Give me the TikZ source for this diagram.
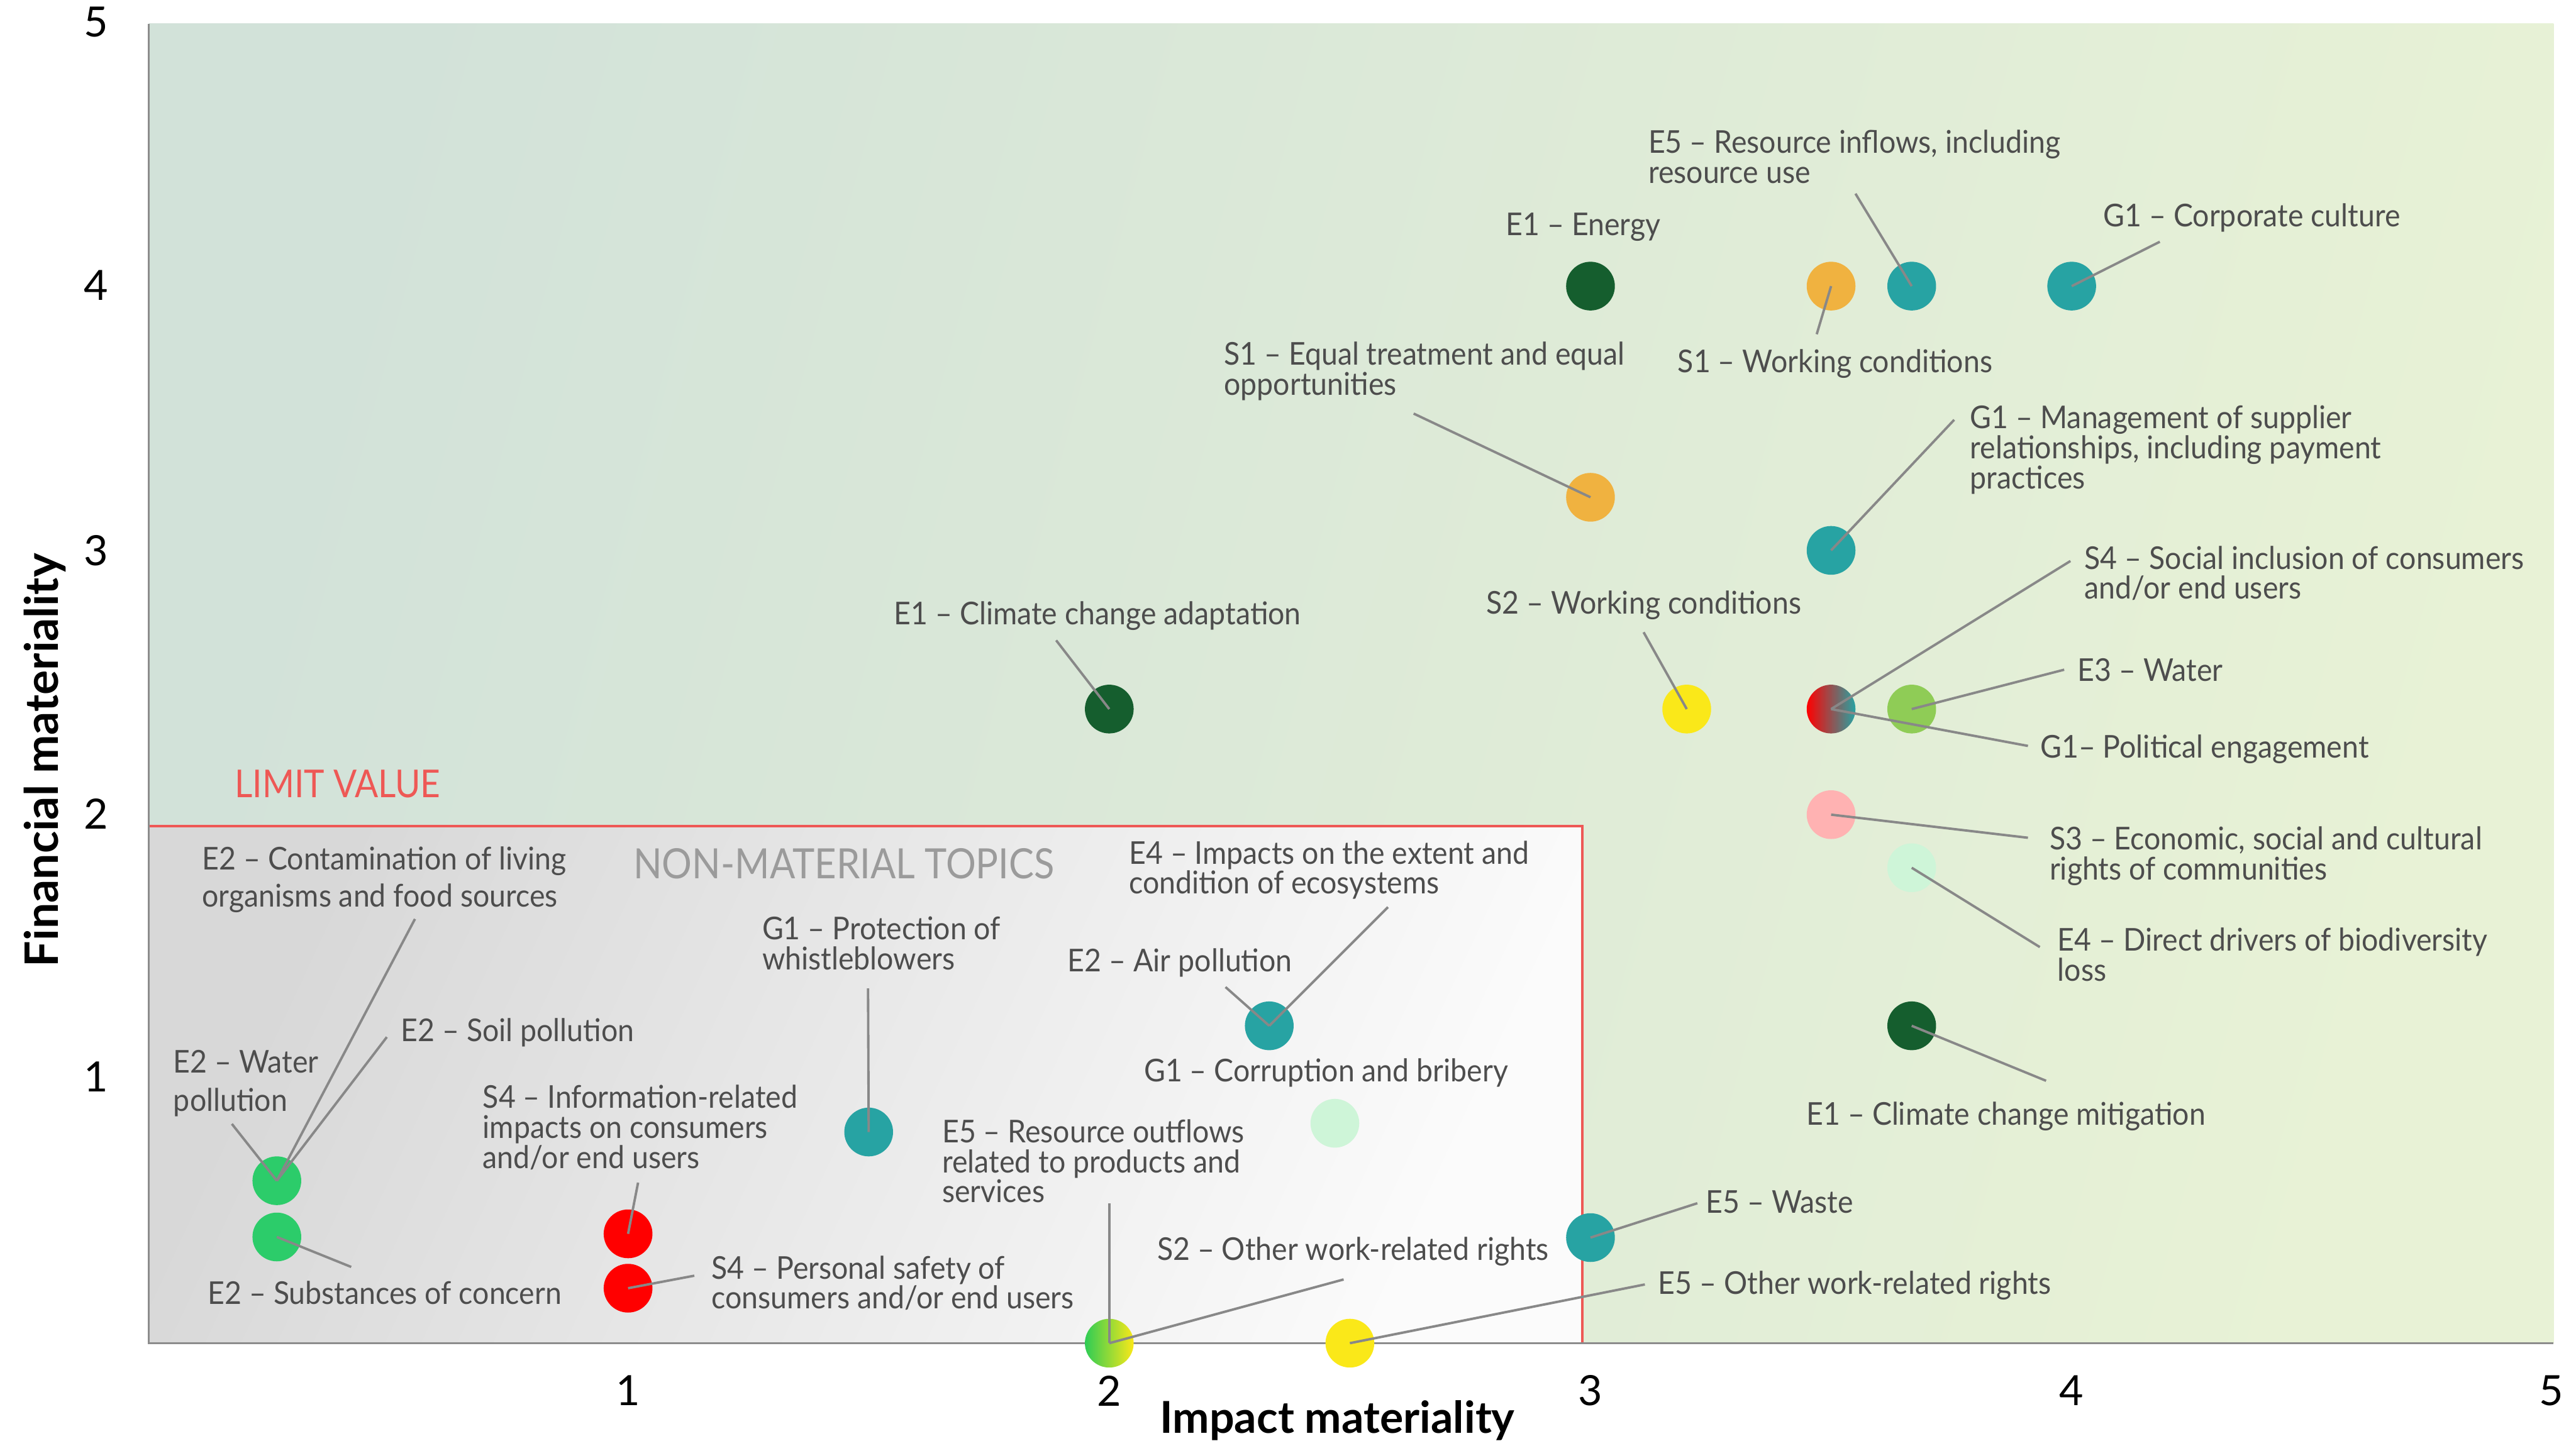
\documentclass[tikz,border=0pt]{standalone}
\usepackage{fontspec}
\setmainfont{Lato}
\newfontfamily\lblfam{Lato}[FakeStretch=0.93]
\newfontfamily\capfam{Lato}[FakeStretch=0.90]
\definecolor{dkgreen}{RGB}{21,94,46}
\definecolor{tealc}{RGB}{39,163,163}
\definecolor{orng}{RGB}{240,178,64}
\definecolor{yell}{RGB}{250,232,25}
\definecolor{redd}{RGB}{255,0,0}
\definecolor{grn}{RGB}{44,204,106}
\definecolor{grnb}{RGB}{46,204,85}
\definecolor{lgrn}{RGB}{143,204,86}
\definecolor{pinkc}{RGB}{255,178,178}
\definecolor{mint}{RGB}{206,245,216}
\definecolor{txtgray}{RGB}{77,77,77}
\definecolor{leadgray}{RGB}{136,136,136}
\definecolor{axgray}{RGB}{140,140,140}
\definecolor{limred}{RGB}{238,88,85}
\definecolor{bgl}{RGB}{210,226,217}
\definecolor{bgr}{RGB}{232,242,214}
\definecolor{boxl}{RGB}{216,216,216}
\definecolor{boxr}{RGB}{251,251,251}
\definecolor{nmgray}{RGB}{155,155,155}
\newcommand\mlines[2]{\vtop{\baselineskip=#1\lineskiplimit=-100pt\relax\halign{##\hfil\cr#2\crcr}}}
\newcommand\lblfont{\lblfam\fontsize{14.3pt}{13.66pt}\selectfont}
\tikzset{
  dot/.style={circle, minimum size=0.78cm, inner sep=0pt, draw=none},
  lbl/.style={anchor=base west, inner sep=0pt, text=txtgray, font=\lblfont},
  lead/.style={draw=leadgray, line width=1.1pt},
  tick/.style={inner sep=0pt, text=black, font=\fontsize{19pt}{19pt}\selectfont},
  axtitle/.style={inner sep=0pt, text=black, font=\fontsize{20pt}{20pt}\selectfont\bfseries},
}
\begin{document}
\begin{tikzpicture}
\useasboundingbox (0,0) rectangle (41.22,23.14);
\fill[white] (0,0) rectangle (41.22,23.14);
% plot background
\shade[left color=bgl, right color=bgr, shading angle=75] (2.38,1.64) rectangle (40.86,22.76);
% non-material box
\shade[left color=boxl, right color=boxr, shading angle=65] (2.38,1.64) rectangle (25.32,9.92);
\draw[limred, line width=1.2pt] (2.38,9.92) -- (25.32,9.92) -- (25.32,1.64);
% axes
\draw[axgray, line width=1.1pt] (2.38,22.76) -- (2.38,1.64) -- (40.86,1.64);

% region texts
\node[anchor=base west, inner sep=0pt, text=limred, font=\capfam\fontsize{17.5pt}{17.5pt}\selectfont] (limit) at (3.75,10.37) {LIMIT VALUE};
\node[anchor=base west, inner sep=0pt, text=nmgray, font=\capfam\fontsize{19pt}{19pt}\selectfont] (nonmat) at (10.13,9.08) {NON-MATERIAL TOPICS};

% ticks
\node[tick] (y5) at (1.54,22.79) {5};
\node[tick] (y4) at (1.54,18.57) {4};
\node[tick] (y3) at (1.54,14.33) {3};
\node[tick] (y2) at (1.54,10.11) {2};
\node[tick] (y1) at (1.54,5.90) {1};
\node[tick] (x1) at (10.05,0.88) {1};
\node[tick] (x2) at (17.75,0.88) {2};
\node[tick] (x3) at (25.45,0.88) {3};
\node[tick] (x4) at (33.15,0.88) {4};
\node[tick] (x5) at (40.82,0.88) {5};

% axis titles
\node[axtitle, anchor=base] (xt) at (21.40,0.20) {Impact materiality};
\node[axtitle, anchor=base, rotate=90, font=\fontsize{21pt}{21pt}\selectfont\bfseries] (yt) at (0.93,10.97) {Financial materiality};

% circles
\node[dot, fill=dkgreen] (en) at (25.45,18.56) {};
\node[dot, fill=orng] (s1w) at (29.30,18.56) {};
\node[dot, fill=tealc] (e5in) at (30.59,18.56) {};
\node[dot, fill=tealc] (g1cc) at (33.15,18.56) {};
\node[dot, fill=orng] (s1eq) at (25.45,15.18) {};
\node[dot, fill=tealc] (g1mg) at (29.30,14.33) {};
\node[dot, fill=dkgreen] (e1ad) at (17.75,11.79) {};
\node[dot, fill=yell] (s2wc) at (26.99,11.79) {};
\node[dot, left color=redd, right color=tealc] (s4g1) at (29.30,11.79) {};
\node[dot, fill=lgrn] (e3w) at (30.59,11.79) {};
\node[dot, fill=pinkc] (s3) at (29.30,10.10) {};
\node[dot, fill=mint] (e4dd) at (30.59,9.25) {};
\node[dot, fill=dkgreen] (e1mi) at (30.59,6.72) {};
\node[dot, fill=tealc] (e5wa) at (25.45,3.33) {};
\node[dot, fill=yell] (e5ow) at (21.60,1.64) {};
\node[dot, left color=grnb, right color=yell] (s2e5) at (17.75,1.64) {};
\node[dot, fill=mint] (g1cb) at (21.36,5.16) {};
\node[dot, fill=tealc] (e2air) at (20.31,6.72) {};
\node[dot, fill=tealc] (g1pw) at (13.90,5.02) {};
\node[dot, fill=redd] (s4ir) at (10.05,3.39) {};
\node[dot, fill=redd] (s4ps) at (10.05,2.52) {};
\node[dot, fill=grn] (e2wat) at (4.43,4.24) {};
\node[dot, fill=grn] (e2sub) at (4.43,3.34) {};

% labels
\node[lbl] (lA) at (26.37,20.69) {\mlines{13.66pt}{E5 – Resource inflows, including\cr resource use}};
\node[lbl] (lB) at (24.09,19.37) {E1 – Energy};
\node[lbl] (lC) at (33.65,19.51) {G1 – Corporate culture};
\node[lbl] (lD) at (26.84,17.18) {S1 – Working conditions};
\node[lbl] (lE) at (19.58,17.30) {\mlines{13.66pt}{S1 – Equal treatment and equal\cr opportunities}};
\node[lbl] (lF) at (31.52,16.28) {\mlines{13.66pt}{G1 – Management of supplier\cr relationships, including payment\cr practices}};
\node[lbl] (lG) at (33.35,14.03) {\mlines{13.66pt}{S4 – Social inclusion of consumers\cr and/or end users}};
\node[lbl] (lH) at (33.24,12.24) {E3 – Water};
\node[lbl] (lI) at (32.64,11.01) {G1– Political engagement};
\node[lbl] (lJ) at (32.79,9.54) {\mlines{13.66pt}{S3 – Economic, social and cultural\cr rights of communities}};
\node[lbl] (lK) at (32.92,7.92) {\mlines{13.66pt}{E4 – Direct drivers of biodiversity\cr loss}};
\node[lbl] (lL) at (28.90,5.13) {E1 – Climate change mitigation};
\node[lbl] (lM) at (27.29,3.72) {E5 – Waste};
\node[lbl] (lN) at (26.53,2.42) {E5 – Other work-related rights};
\node[lbl] (lO) at (18.51,2.97) {S2 – Other work-related rights};
\node[lbl] (lP) at (15.07,4.85) {\mlines{13.66pt}{E5 – Resource outflows\cr related to products and\cr services}};
\node[lbl] (lQ) at (18.30,5.83) {G1 – Corruption and bribery};
\node[lbl] (lR) at (17.08,7.59) {E2 – Air pollution};
\node[lbl] (lS) at (18.06,9.31) {\mlines{13.66pt}{E4 – Impacts on the extent and\cr condition of ecosystems}};
\node[lbl] (lT) at (12.19,8.10) {\mlines{13.66pt}{G1 – Protection of\cr whistleblowers}};
\node[lbl] (lU) at (7.72,5.40) {\mlines{13.66pt}{S4 – Information-related\cr impacts on consumers\cr and/or end users}};
\node[lbl] (lV) at (11.38,2.67) {\mlines{13.66pt}{S4 – Personal safety of\cr consumers and/or end users}};
\node[lbl] (lW) at (3.23,9.22) {\mlines{17.07pt}{E2 – Contamination of living\cr organisms and food sources}};
\node[lbl] (lX) at (6.41,6.47) {E2 – Soil pollution};
\node[lbl] (lY) at (2.77,5.97) {\mlines{17.6pt}{E2 – Water\cr pollution}};
\node[lbl] (lZ) at (3.32,2.26) {E2 – Substances of concern};
\node[lbl] (lAA) at (14.30,13.14) {E1 – Climate change adaptation};
\node[lbl] (lBB) at (23.78,13.31) {S2 – Working conditions};

% leader line ends
\coordinate (cA) at (29.69,20.04);
\coordinate (cC) at (34.56,19.27);
\coordinate (cD) at (29.07,17.79);
\coordinate (cE) at (22.62,16.52);
\coordinate (cF) at (31.27,16.42);
\coordinate (cG) at (33.13,14.16);
\coordinate (cH) at (33.03,12.42);
\coordinate (cI) at (32.45,11.20);
\coordinate (cJ) at (32.45,9.73);
\coordinate (cK) at (32.64,7.98);
\coordinate (cL) at (32.74,5.84);
\coordinate (cM) at (27.16,3.88);
\coordinate (cN) at (26.32,2.58);
\coordinate (cO) at (21.50,2.66);
\coordinate (cP) at (17.75,3.88);
\coordinate (cR) at (19.61,7.34);
\coordinate (cS) at (22.21,8.62);
\coordinate (cT) at (13.89,7.32);
\coordinate (cU) at (10.21,4.21);
\coordinate (cV) at (11.11,2.72);
\coordinate (cW) at (6.64,8.43);
\coordinate (cX) at (6.19,6.54);
\coordinate (cY) at (3.71,5.15);
\coordinate (cZ) at (5.62,2.86);
\coordinate (cAA) at (16.90,12.89);
\coordinate (cBB) at (26.30,13.02);

% leader lines
\draw[lead] (cA) -- (e5in.center);
\draw[lead] (cC) -- (g1cc.center);
\draw[lead] (cD) -- (s1w.center);
\draw[lead] (cE) -- (s1eq.center);
\draw[lead] (cF) -- (g1mg.center);
\draw[lead] (cG) -- (s4g1.center);
\draw[lead] (cH) -- (e3w.center);
\draw[lead] (cI) -- (s4g1.center);
\draw[lead] (cJ) -- (s3.center);
\draw[lead] (cK) -- (e4dd.center);
\draw[lead] (cL) -- (e1mi.center);
\draw[lead] (cM) -- (e5wa.center);
\draw[lead] (cN) -- (e5ow.center);
\draw[lead] (cO) -- (s2e5.center);
\draw[lead] (cP) -- (s2e5.center);
\draw[lead] (cR) -- (e2air.center);
\draw[lead] (cS) -- (e2air.center);
\draw[lead] (cT) -- (g1pw.center);
\draw[lead] (cU) -- (s4ir.center);
\draw[lead] (cV) -- (s4ps.center);
\draw[lead] (cW) -- (e2wat.center);
\draw[lead] (cX) -- (e2wat.center);
\draw[lead] (cY) -- (e2wat.center);
\draw[lead] (cZ) -- (e2sub.center);
\draw[lead] (cAA) -- (e1ad.center);
\draw[lead] (cBB) -- (s2wc.center);
\end{tikzpicture}
\end{document}
